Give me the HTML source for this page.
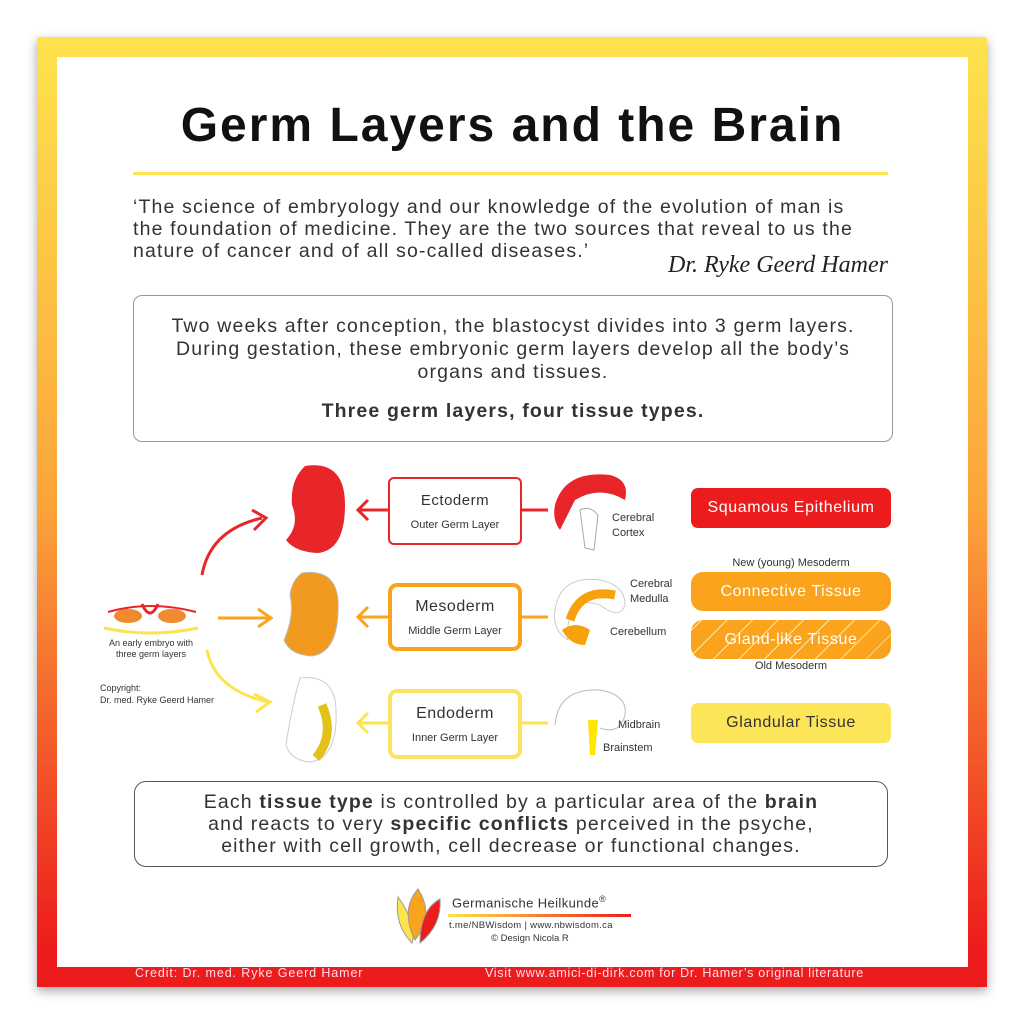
<!DOCTYPE html>
<html><head><meta charset="utf-8"><style>
*{margin:0;padding:0;box-sizing:border-box}
body{width:1024px;height:1024px;background:#fff;position:relative;overflow:hidden;font-family:"Liberation Sans",sans-serif;color:#333}
.a{position:absolute;white-space:nowrap}
.frame{left:37px;top:37px;width:950px;height:950px;background:linear-gradient(#fde34d,#fba33a 50%,#ec1c1c 96%);box-shadow:0 4px 10px rgba(0,0,0,.35)}
.inner{left:57px;top:57px;width:911px;height:910px;background:#fff}
.c{text-align:center}
.gb{border-radius:9px;background:#fff;text-align:center;display:flex;flex-direction:column;justify-content:center;align-items:center;color:#333}
.tb{border-radius:7px;display:flex;align-items:center;justify-content:center;font-size:16px;color:#fff;letter-spacing:.6px}
.w{font-size:19.5px;letter-spacing:1.15px}
</style></head><body>
<div class="a frame"></div>
<div class="a inner"></div>
<div class="a c" style="left:57px;width:911px;top:98px;font-size:48px;font-weight:bold;color:#111;letter-spacing:2px">Germ Layers and the Brain</div>
<div class="a" style="left:133px;top:172px;width:755px;height:3px;background:#fde34d"></div>
<div class="a w" style="left:133px;top:196px;line-height:22px;color:#333">‘The science of embryology and our knowledge of the evolution of man is<br>the foundation of medicine. They are the two sources that reveal to us the<br>nature of cancer and of all so-called diseases.’</div>
<div class="a" style="left:668px;top:252px;font-family:'Liberation Serif',serif;font-style:italic;font-size:24px;color:#222">Dr. Ryke Geerd Hamer</div>
<div class="a gb w" style="left:133px;top:295px;width:760px;height:147px;border:1px solid #999;line-height:23px">
<div>Two weeks after conception, the blastocyst divides into 3 germ layers.<br>During gestation, these embryonic germ layers develop all the body’s<br>organs and tissues.</div>
<div style="font-weight:bold;margin-top:16px">Three germ layers, four tissue types.</div></div>

<svg class="a" style="left:0;top:0" width="1024" height="1024">
<path d="M202 575 Q210 530 262 518" stroke="#e8262a" stroke-width="3" fill="none"/>
<path d="M252 510 L266 518 L254 530" stroke="#e8262a" stroke-width="3" fill="none"/>
<path d="M218 618 L270 618" stroke="#fba31c" stroke-width="3"/>
<path d="M258 609 L271 618 L258 627" stroke="#fba31c" stroke-width="3" fill="none"/>
<path d="M207 650 Q215 690 268 702" stroke="#fde34d" stroke-width="3" fill="none"/>
<path d="M254 694 L270 702 L256 712" stroke="#fde34d" stroke-width="3" fill="none"/>
<path d="M104 628 Q150 638 198 628" stroke="#fde34d" stroke-width="3" fill="none"/>
<path d="M108 612 Q150 600 196 612" stroke="#e8262a" stroke-width="2" fill="none"/>
<ellipse cx="128" cy="616" rx="14" ry="7" fill="#f08a30"/><ellipse cx="172" cy="616" rx="14" ry="7" fill="#f08a30"/>
<path d="M142 604 Q150 622 158 604" stroke="#e8262a" stroke-width="3" fill="none"/>
<path d="M305 466 Q345 460 345 505 Q345 550 318 553 Q295 552 286 540 Q300 525 292 505 Q290 480 305 466 Z" fill="#e8262a"/>
<path d="M302 573 Q335 568 338 600 Q340 652 312 656 Q290 655 284 640 Q295 615 290 595 Q292 580 302 573 Z" fill="#f29a1f" stroke="#bbb"/>
<path d="M300 678 Q335 674 336 710 Q338 758 310 762 Q290 760 286 745 Q292 705 300 678 Z" fill="#fff" stroke="#ccc"/>
<path d="M322 705 Q335 735 316 758" stroke="#e2c11b" stroke-width="9" fill="none"/>
<path d="M522 510 L548 510" stroke="#e8262a" stroke-width="3"/>
<path d="M358 510 L388 510" stroke="#e8262a" stroke-width="3"/><path d="M368 500 L358 510 L368 520" stroke="#e8262a" stroke-width="3" fill="none"/>
<path d="M522 617 L548 617" stroke="#fba31c" stroke-width="3"/>
<path d="M358 617 L388 617" stroke="#fba31c" stroke-width="3"/><path d="M368 607 L358 617 L368 627" stroke="#fba31c" stroke-width="3" fill="none"/>
<path d="M522 723 L548 723" stroke="#fde34d" stroke-width="3"/>
<path d="M358 723 L388 723" stroke="#fde34d" stroke-width="3"/><path d="M368 713 L358 723 L368 733" stroke="#fde34d" stroke-width="3" fill="none"/>
<path d="M555 505 Q565 470 610 475 Q630 480 625 500 Q600 485 575 500 Q565 520 560 530 Q552 520 555 505Z" fill="#e8262a"/>
<path d="M580 510 Q590 505 598 515 L594 550 L585 548 Z" fill="#fff" stroke="#aaa"/>
<path d="M555 610 Q560 575 600 580 Q625 585 625 605 Q620 620 600 605 Q580 598 572 612 Q566 625 568 640 Q552 630 555 610Z" fill="none" stroke="#ccc"/>
<path d="M570 620 Q580 588 615 595" stroke="#f5a20c" stroke-width="9" fill="none"/>
<path d="M562 630 Q575 620 590 630 L585 645 Q570 645 562 630Z" fill="#f5a20c"/>
<path d="M555 725 Q558 688 600 690 Q628 695 625 715 Q620 735 600 728" fill="none" stroke="#bbb"/>
<path d="M588 720 L598 720 L595 755 L590 755Z" fill="#ffe600"/>
</svg>
<div class="a" style="left:100px;top:638px;font-size:9px;line-height:11px;width:102px;text-align:center;color:#333;white-space:normal">An early embryo with three germ layers</div>
<div class="a" style="left:100px;top:682px;font-size:9px;line-height:12px;color:#333">Copyright:<br>Dr. med. Ryke Geerd Hamer</div>

<div class="a gb" style="left:388px;top:477px;width:134px;height:68px;border:2px solid #e8262a;border-radius:6px"><div style="font-size:15px;letter-spacing:.5px">Ectoderm</div><div style="font-size:11px;margin-top:10px">Outer Germ Layer</div></div>
<div class="a gb" style="left:388px;top:583px;width:134px;height:68px;border:4px solid #fba31c"><div style="font-size:16px;letter-spacing:.5px">Mesoderm</div><div style="font-size:11px;margin-top:9px">Middle Germ Layer</div></div>
<div class="a gb" style="left:388px;top:689px;width:134px;height:70px;border:4px solid #fde35d"><div style="font-size:16px;letter-spacing:.5px">Endoderm</div><div style="font-size:11px;margin-top:9px">Inner Germ Layer</div></div>

<div class="a" style="left:612px;top:511px;font-size:11px;line-height:15px">Cerebral<br>Cortex</div>
<div class="a" style="left:630px;top:577px;font-size:11px;line-height:15px">Cerebral<br>Medulla</div>
<div class="a" style="left:610px;top:626px;font-size:11px">Cerebellum</div>
<div class="a" style="left:618px;top:719px;font-size:11px">Midbrain</div>
<div class="a" style="left:603px;top:742px;font-size:11px">Brainstem</div>

<div class="a tb" style="left:691px;top:488px;width:200px;height:40px;background:#ec1c1c">Squamous Epithelium</div>
<div class="a" style="left:691px;top:557px;width:200px;text-align:center;font-size:11px">New (young) Mesoderm</div>
<div class="a tb" style="left:691px;top:572px;width:200px;height:39px;background:#fba31c;border-radius:12px">Connective Tissue</div>
<div class="a tb" style="left:691px;top:620px;width:200px;height:39px;border-radius:12px;background:repeating-linear-gradient(-45deg,#fba31c 0 17px,#fde7a0 17px 18px)">Gland-like Tissue</div>
<div class="a" style="left:691px;top:660px;width:200px;text-align:center;font-size:11px">Old Mesoderm</div>
<div class="a tb" style="left:691px;top:703px;width:200px;height:40px;background:#fde55a;color:#333">Glandular Tissue</div>

<div class="a gb w" style="left:134px;top:781px;width:754px;height:86px;border:1px solid #555;border-radius:12px;line-height:22px">
<div>Each <b>tissue type</b> is controlled by a particular area of the <b>brain</b><br>and reacts to very <b>specific conflicts</b> perceived in the psyche,<br>either with cell growth, cell decrease or functional changes.</div></div>

<svg class="a" style="left:390px;top:885px" width="60" height="62">
<path d="M8 12 Q4 40 22 58 Q28 40 8 12Z" fill="#fde34d" stroke="#999"/>
<path d="M28 4 Q10 25 25 55 Q45 30 28 4Z" fill="#fba31c" stroke="#999"/>
<path d="M50 14 Q30 25 30 58 Q52 40 50 14Z" fill="#ec1c1c" stroke="#999"/>
</svg>
<div class="a" style="left:452px;top:894px;font-size:13px;color:#333;letter-spacing:.4px">Germanische Heilkunde<sup style="font-size:9px">®</sup></div>
<div class="a" style="left:448px;top:914px;width:183px;height:3px;background:linear-gradient(90deg,#fde34d,#ec1c1c)"></div>
<div class="a" style="left:449px;top:920px;font-size:9.5px;color:#333;letter-spacing:.3px">t.me/NBWisdom | www.nbwisdom.ca</div>
<div class="a" style="left:491px;top:933px;font-size:9.5px;color:#333">© Design Nicola R</div>

<div class="a" style="left:135px;top:966px;font-size:12.5px;color:#fde;letter-spacing:.9px">Credit: Dr. med. Ryke Geerd Hamer</div>
<div class="a" style="left:485px;top:966px;font-size:12.5px;color:#fde;letter-spacing:.7px">Visit www.amici-di-dirk.com for Dr. Hamer’s original literature</div>
</body></html>
